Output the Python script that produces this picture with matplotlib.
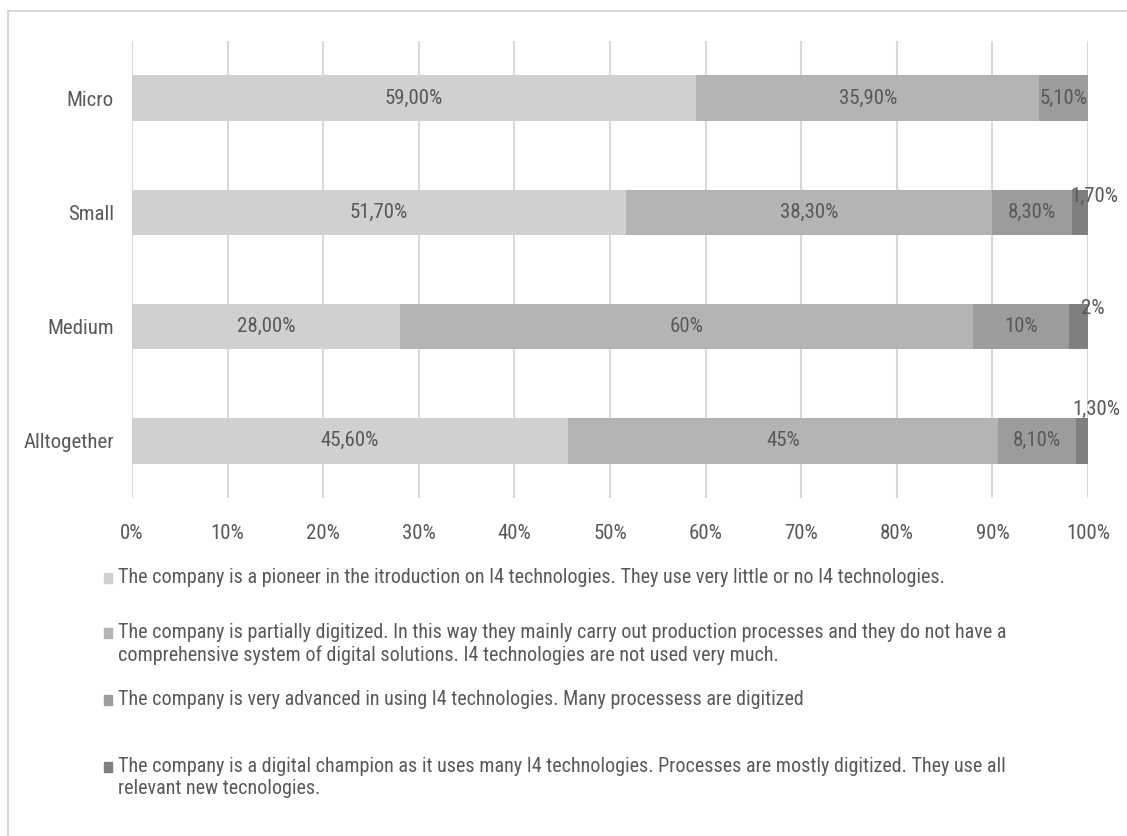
import matplotlib
matplotlib.use("Agg")
import matplotlib.pyplot as plt
from matplotlib import font_manager
from matplotlib.patches import Rectangle
from matplotlib.lines import Line2D
import numpy as np

installed = {f.name for f in font_manager.fontManager.ttflist}
family = next((f for f in ["Liberation Sans Narrow", "Roboto Condensed", "Open Sans Condensed", "Lato"]
               if f in installed), "DejaVu Sans")
plt.rcParams['font.family'] = [family, 'DejaVu Sans']
FS = 15
FS_LEGEND = 14.5

categories = ["Micro", "Small", "Medium", "Alltogether"]
pioneer = [59.0, 51.7, 28.0, 45.6]
partial = [35.9, 38.3, 60.0, 45.0]
advanced = [5.1, 8.3, 10.0, 8.1]
champion = [0.0, 1.7, 2.0, 1.3]

pioneer_labels = ["59,00%", "51,70%", "28,00%", "45,60%"]
partial_labels = ["35,90%", "38,30%", "60%", "45%"]
advanced_labels = ["5,10%", "8,30%", "10%", "8,10%"]
champion_labels = ["", "1,70%", "2%", "1,30%"]

series_names = [
    "The company is a pioneer in the itroduction on I4 technologies. They use very little or no I4 technologies.",
    "The company is partially digitized. In this way they mainly carry out production processes and they do not have a\ncomprehensive system of digital solutions. I4 technologies are not used very much.",
    "The company is very advanced in using I4 technologies. Many processess are digitized",
    "The company is a digital champion as it uses many I4 technologies. Processes are mostly digitized. They use all\nrelevant new tecnologies.",
]

x_ticks = [0, 10, 20, 30, 40, 50, 60, 70, 80, 90, 100]
x_tick_labels = ["0%", "10%", "20%", "30%", "40%", "50%", "60%", "70%", "80%", "90%", "100%"]

colors = ["#d0d0d0", "#b4b4b4", "#9c9c9c", "#7f7f7f"]
text_color = "#595959"
grid_color = "#d9d9d9"

# pixel offsets for the labels of the thin end segments
small_label_offsets = [(0, 0), (15, 16), (14, 18), (15, 31)]

W, H = 1127, 836
fig = plt.figure(figsize=(W / 100, H / 100), dpi=100)
ax = fig.add_axes([132 / W, 1 - 498 / H, (1088 - 132) / W, (498 - 41) / H])

y = np.arange(len(categories))
series = [pioneer, partial, advanced, champion]
labels = [pioneer_labels, partial_labels, advanced_labels, champion_labels]
left = np.zeros(len(categories))
bar_h = 0.4
for vals, labs, col in zip(series, labels, colors):
    vals = np.array(vals)
    ax.barh(y, vals, left=left, height=bar_h, color=col, zorder=2)
    for i, (v, lab) in enumerate(zip(vals, labs)):
        if not lab:
            continue
        cx = left[i] + v / 2
        off = small_label_offsets[i] if v < 3 else (0, 0)
        ax.annotate(lab, (cx, y[i]), xytext=off, textcoords="offset pixels",
                    ha="center", va="center", fontsize=FS, color=text_color,
                    zorder=3, annotation_clip=False)
    left = left + vals

ax.set_xlim(0, 100)
ax.set_ylim(len(categories) - 0.5, -0.5)
ax.set_yticks(y)
ax.set_yticklabels(categories, fontsize=FS, color=text_color)
ax.set_xticks(x_ticks)
ax.set_xticklabels(x_tick_labels, fontsize=FS, color=text_color)
ax.tick_params(axis="both", length=0)
ax.tick_params(axis="y", pad=13)
ax.tick_params(axis="x", pad=19)
ax.xaxis.grid(True, color=grid_color, linewidth=1.5, zorder=0)
for s in ax.spines.values():
    s.set_visible(False)

# legend entries stacked under the plot
legend_y = [578, 633, 700, 767]
for name, col, ly in zip(series_names, colors, legend_y):
    fig.patches.append(Rectangle((104 / W, 1 - (ly + 5) / H), 8 / W, 10 / H,
                                 transform=fig.transFigure, color=col))
    fig.text(118 / W, 1 - (ly - 10) / H, name, ha="left", va="top", fontsize=FS_LEGEND,
             color=text_color, linespacing=1.2)

# chart frame
fig.lines.append(Line2D([8 / W, 8 / W], [0, 1 - 11 / H], transform=fig.transFigure,
                        color=grid_color, linewidth=1.5))
fig.lines.append(Line2D([8 / W, 1], [1 - 11 / H, 1 - 11 / H], transform=fig.transFigure,
                        color=grid_color, linewidth=1.5))

fig.savefig("out.png", dpi=100, facecolor="white")
